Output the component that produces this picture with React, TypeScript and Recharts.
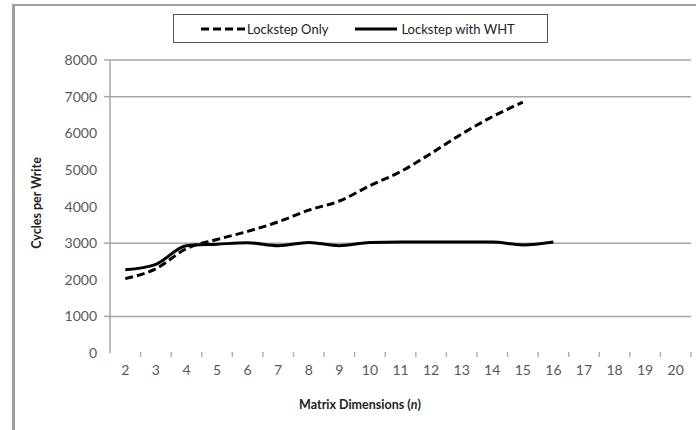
import React from 'react';
import { LineChart, Line, XAxis, YAxis, ReferenceLine, Legend, Label } from 'recharts';

const dimensions = [2, 3, 4, 5, 6, 7, 8, 9, 10, 11, 12, 13, 14, 15, 16, 17, 18, 19, 20];
const lockstepOnly = [2030, 2300, 2850, 3100, 3320, 3580, 3900, 4150, 4570, 4950, 5450, 5980, 6450, 6850];
const lockstepWht = [2270, 2420, 2930, 2970, 3010, 2930, 3020, 2930, 3020, 3030, 3030, 3030, 3030, 2950, 3030];
const yTicks = [0, 1000, 2000, 3000, 4000, 5000, 6000, 7000, 8000];
const gridValues = [1000, 3000, 7000, 8000];

const data = dimensions.map((n, i) => ({
  n,
  only: lockstepOnly[i],
  wht: lockstepWht[i],
}));

const W = 696;
const H = 430;
const PLOT_LEFT = 110;
const PLOT_RIGHT = 691;
const BAND = (PLOT_RIGHT - PLOT_LEFT) / dimensions.length;
const LEGEND_H = 29;
const FONT = 'Lato, "Open Sans", sans-serif';

const YTick = (props: any) => {
  const { y, payload } = props;
  return (
    <g>
      {gridValues.includes(payload.value) && (
        <line x1={PLOT_LEFT - 6} x2={PLOT_LEFT} y1={y} y2={y} stroke="#a6a6a6" strokeWidth={1.5} />
      )}
      <text x={97} y={y} dy="0.36em" textAnchor="end" fill="#595959" fontSize={14} fontFamily={FONT}>
        {payload.value}
      </text>
    </g>
  );
};

const XTick = (props: any) => {
  const { x, y, payload } = props;
  return (
    <g>
      <line x1={x + BAND / 2} x2={x + BAND / 2} y1={352} y2={357} stroke="#b0b0b0" strokeWidth={1.5} />
      <text x={x} y={y} dy={14} textAnchor="middle" fill="#595959" fontSize={14} fontFamily={FONT}>
        {payload.value}
      </text>
    </g>
  );
};

const LegendBox = () => (
  <div
    style={{
      width: 375,
      height: LEGEND_H,
      boxSizing: 'border-box',
      border: '1px solid #555',
      background: '#fff',
      display: 'flex',
      alignItems: 'center',
      fontFamily: FONT,
      fontSize: 13,
      color: '#222',
    }}
  >
    <svg width={44} height={10} style={{ marginLeft: 27 }}>
      <line x1={0} x2={44} y1={5} y2={5} stroke="#000" strokeWidth={3} strokeDasharray="8 4" />
    </svg>
    <span style={{ marginLeft: 2 }}>Lockstep Only</span>
    <svg width={42} height={10} style={{ marginLeft: 27 }}>
      <line x1={0} x2={42} y1={5} y2={5} stroke="#000" strokeWidth={3} />
    </svg>
    <span style={{ marginLeft: 4 }}>Lockstep with WHT</span>
  </div>
);

export default function App() {
  return (
    <div style={{ position: 'absolute', left: 0, top: 0, width: W, height: H, overflow: 'hidden', background: '#fff' }}>
      <div
        style={{
          position: 'absolute',
          left: 12,
          top: 4,
          width: W,
          height: H,
          borderLeft: '3px solid #a0a0a0',
          borderTop: '2px solid #a0a0a0',
        }}
      />
      <LineChart
        width={W}
        height={H}
        data={data}
        margin={{ top: 60 - LEGEND_H, right: W - PLOT_RIGHT, bottom: 47, left: 0 }}
        style={{ position: 'absolute', left: 0, top: 0 }}
      >
        <XAxis
          dataKey="n"
          height={30}
          axisLine={false}
          tickLine={false}
          interval={0}
          padding={{ left: BAND / 2, right: BAND / 2 }}
          tick={<XTick />}
        >
          <Label
            content={() => (
              <text x={360} y={409} textAnchor="middle" fontFamily={FONT} fontSize={12.5} fontWeight="bold" fill="#222">
                Matrix Dimensions (<tspan fontStyle="italic">n</tspan>)
              </text>
            )}
          />
        </XAxis>
        <YAxis
          width={PLOT_LEFT}
          domain={[0, 8000]}
          ticks={yTicks}
          interval={0}
          axisLine={{ stroke: '#a6a6a6', strokeWidth: 1.5 }}
          tickLine={false}
          tick={<YTick />}
        >
          <Label
            content={() => (
              <text
                x={37}
                y={203}
                textAnchor="middle"
                transform="rotate(-90 37 203)"
                dy="0.35em"
                fontFamily={FONT}
                fontSize={12.5}
                fontWeight="bold"
                fill="#222"
              >
                Cycles per Write
              </text>
            )}
          />
        </YAxis>
        {gridValues.map((v) => (
          <ReferenceLine key={v} y={v} stroke="#a6a6a6" strokeWidth={1.5} />
        ))}
        <Legend
          verticalAlign="top"
          content={<LegendBox />}
          wrapperStyle={{ top: 14, left: 173, width: 375 }}
        />
        <Line
          type="monotone"
          dataKey="only"
          name="Lockstep Only"
          stroke="#000"
          strokeWidth={3}
          strokeDasharray="8 4"
          dot={false}
          isAnimationActive={false}
        />
        <Line
          type="monotone"
          dataKey="wht"
          name="Lockstep with WHT"
          stroke="#000"
          strokeWidth={3}
          dot={false}
          isAnimationActive={false}
        />
      </LineChart>
    </div>
  );
}
